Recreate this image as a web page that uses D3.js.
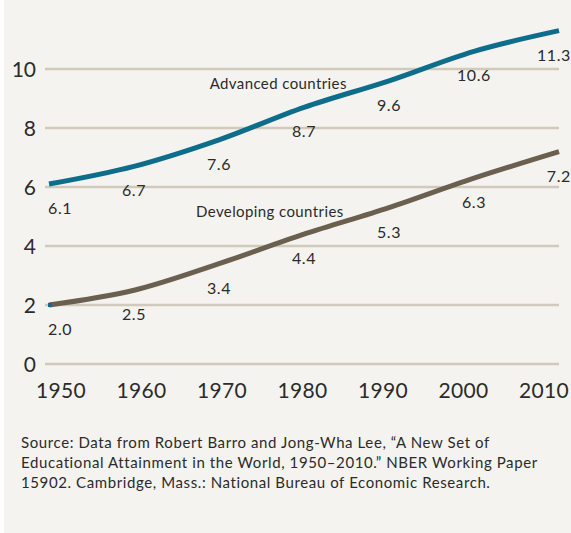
<!DOCTYPE html>
<html>
<head>
<meta charset="utf-8">
<script src="https://cdn.jsdelivr.net/npm/d3@7"></script>
<style>
  body { margin: 0; background: #ffffff; }
  text { font-family: Lato, "Open Sans", sans-serif; fill: #2b2b2b; }
</style>
</head>
<body>
<div class="chart"></div>
<script>
// Years of schooling, 1950-2010

const years = [1950, 1960, 1970, 1980, 1990, 2000, 2010];
const advanced = [6.1, 6.7, 7.6, 8.7, 9.6, 10.6, 11.3];
const developing = [2.0, 2.5, 3.4, 4.4, 5.3, 6.3, 7.2];
const yTicks = [0, 2, 4, 6, 8, 10];
const sourceLines = [
  "Source: Data from Robert Barro and Jong-Wha Lee, \u201cA New Set of",
  "Educational Attainment in the World, 1950\u20132010.\u201d NBER Working Paper",
  "15902. Cambridge, Mass.: National Bureau of Economic Research."
];

const width = 571, height = 533;

const svg = d3.select('.chart')
              .append('svg')
              .attr('width', width)
              .attr('height', height);

// panel background (thin white strip at left)
svg.append('rect')
   .attr('x', 4).attr('y', 0)
   .attr('width', width - 4).attr('height', height)
   .attr('fill', '#f4f3ef');

const x = d3.scaleLinear().domain([1950, 2010]).range([49, 559]);
const xLabel = d3.scaleLinear().domain([1950, 2010]).range([61, 544]);
const y = d3.scaleLinear().domain([0, 10]).range([364, 69]);

// gridlines
svg.append('g')
   .selectAll('line')
   .data(yTicks)
   .enter()
   .append('line')
   .attr('x1', 45).attr('x2', 559)
   .attr('y1', d => y(d)).attr('y2', d => y(d))
   .attr('stroke', '#cfcabc')
   .attr('stroke-width', 2.5);

// y labels
svg.append('g')
   .selectAll('text')
   .data(yTicks)
   .enter()
   .append('text')
   .attr('x', 36)
   .attr('y', d => y(d) - 1)
   .attr('dominant-baseline', 'central')
   .attr('text-anchor', 'end')
   .style('font-size', '21px')
   .text(d => d);

// x labels
svg.append('g')
   .selectAll('text')
   .data(years)
   .enter()
   .append('text')
   .attr('x', d => xLabel(d))
   .attr('y', 398)
   .attr('text-anchor', 'middle')
   .style('font-size', '21px')
   .style('letter-spacing', '0.3px')
   .text(d => d);

const line = d3.line()
               .x((d, i) => x(years[i]))
               .y(d => y(d))
               .curve(d3.curveCatmullRom);

const series = [
  {name: 'Advanced countries', values: advanced, color: '#0e6d8a', lx: 1968.9, ly: 9.32},
  {name: 'Developing countries', values: developing, color: '#6b604f', lx: 1967.3, ly: 4.98}
];

series.forEach(s => {
  svg.append('path')
     .datum(s.values)
     .attr('d', line)
     .attr('fill', 'none')
     .attr('stroke', s.color)
     .attr('stroke-width', 5);

  // value labels under each point
  svg.append('g')
     .selectAll('text')
     .data(s.values)
     .enter()
     .append('text')
     .attr('x', (d, i) => i === 0 ? x(years[i]) - 1 : (i === years.length - 1 ? x(years[i]) + 12 : x(years[i])))
     .attr('y', d => y(d) + 30)
     .attr('text-anchor', (d, i) => i === 0 ? 'start' : (i === years.length - 1 ? 'end' : 'middle'))
     .style('font-size', '16px')
     .style('letter-spacing', '0.6px')
     .text(d => d.toFixed(1));

  svg.append('text')
     .attr('x', x(s.lx))
     .attr('y', y(s.ly))
     .style('font-size', '15px')
     .style('letter-spacing', '0.4px')
     .text(s.name);
});

// small teal marker at start of developing line
svg.append('rect')
   .attr('x', x(years[0]) - 1).attr('y', y(developing[0]) - 2)
   .attr('width', 4).attr('height', 4)
   .attr('fill', '#0e6d8a');

// source note
svg.append('g')
   .selectAll('text')
   .data(sourceLines)
   .enter()
   .append('text')
   .attr('x', 21)
   .attr('y', (d, i) => 448 + i * 20)
   .style('font-size', '15px')
   .style('letter-spacing', '0.6px')
   .text(d => d);
</script>
</body>
</html>
